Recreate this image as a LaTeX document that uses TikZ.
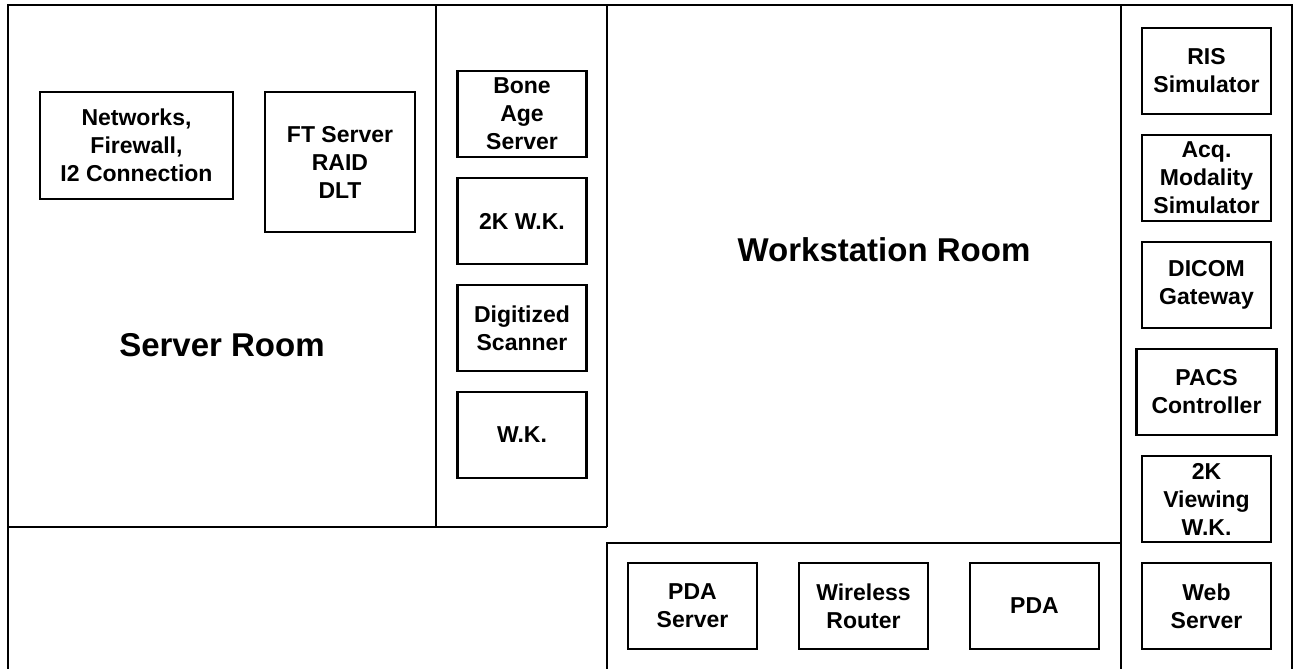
\documentclass[tikz,border=0pt]{standalone}
\usepackage{fontspec}
\setmainfont{Liberation Sans}
\usepackage{tikz}
\usetikzlibrary{positioning}

\tikzset{
  wall/.style={line width=2.8pt},
  unit/.style={draw,line width=2.3pt,align=center,inner sep=0pt,
    minimum width=129pt,minimum height=86pt,
    font=\fontsize{23}{28}\selectfont\bfseries},
  roomlabel/.style={font=\fontsize{33}{40}\selectfont\bfseries}
}

\begin{document}
\begin{tikzpicture}[x=1pt,y=-1pt,node distance=18.7pt]
\useasboundingbox (0,0) rectangle (1296,669);
% walls
\draw[wall] (8,669) -- (8,5) -- (1292,5) -- (1292,669);
\draw[wall] (436,5) -- (436,527);
\draw[wall] (607,5) -- (607,527);
\draw[wall] (8,527) -- (607,527);
\draw[wall] (1121,5) -- (1121,669);
\draw[wall] (607,669) -- (607,543) -- (1121,543);
% server room
\node[unit,minimum width=193pt,minimum height=107pt] (net) at (136.5,145.5) {Networks,\\Firewall,\\I2 Connection};
\node[unit,minimum width=150pt,minimum height=140pt] (ft) at (340,162) {FT Server\\RAID\\DLT};
\node[roomlabel] (srvroom) at (222,345) {Server Room};
% middle column
\node[unit] (bone) at (522,114) {Bone\\Age\\Server};
\node[unit,below=of bone] (wk2k) {2K W.K.};
\node[unit,below=of wk2k] (scan) {Digitized\\Scanner};
\node[unit,below=of scan] (wk) {W.K.};
% workstation room
\node[roomlabel] (wsroom) at (884,250) {Workstation Room};
% right column
\node[unit] (ris) at (1206.5,71) {RIS\\Simulator};
\node[unit,below=of ris] (acq) {Acq.\\Modality\\Simulator};
\node[unit,below=of acq] (dicom) {DICOM\\Gateway};
\node[unit,below=of dicom,minimum width=140pt] (pacs) {PACS\\Controller};
\node[unit,below=of pacs] (view) {2K\\Viewing\\W.K.};
\node[unit,below=of view] (web) {Web\\Server};
% PDA area
\node[unit] (pdasrv) at (692.5,606) {PDA\\Server};
\node[unit,right=39.7pt of pdasrv] (router) {Wireless\\Router};
\node[unit,right=39.7pt of router] (pda) {PDA};
\end{tikzpicture}
\end{document}
